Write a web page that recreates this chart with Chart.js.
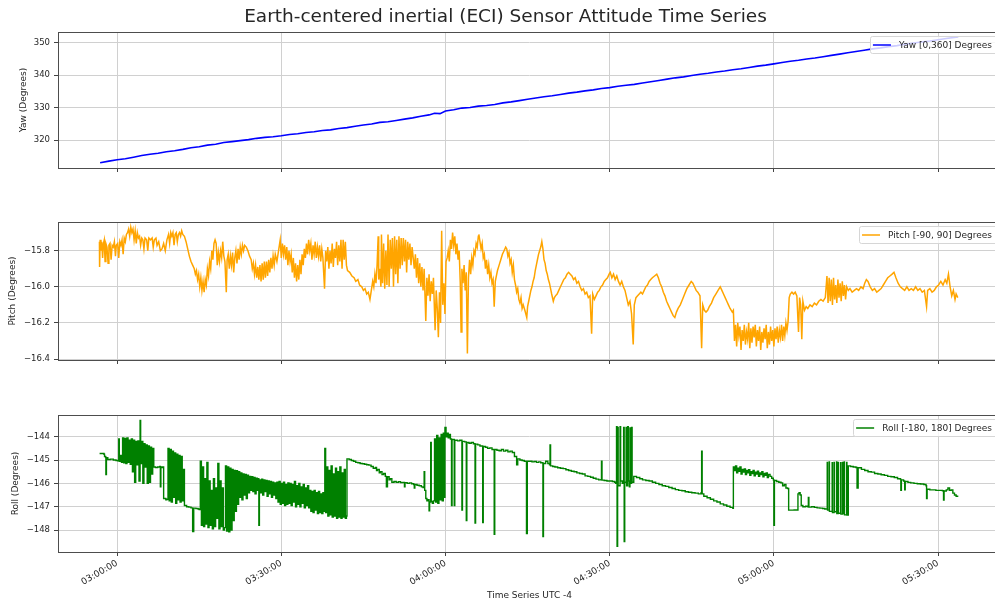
<!DOCTYPE html>
<html>
<head>
<meta charset="utf-8">
<title>ECI Sensor Attitude Time Series</title>
<script src="https://cdn.jsdelivr.net/npm/chart.js@4.4.1/dist/chart.umd.min.js"></script>
<style>
  html, body { margin: 0; padding: 0; background: #fff; overflow: hidden; width: 995px; height: 603px; }
  canvas { position: absolute; left: 0; }
  #yawCanvas { top: 0; }
  #pitchCanvas { top: 200px; }
  #rollCanvas { top: 380px; }
</style>
</head>
<body>
<canvas id="yawCanvas" width="1004" height="200"></canvas>
<canvas id="pitchCanvas" width="1004" height="180"></canvas>
<canvas id="rollCanvas" width="1004" height="223"></canvas>
<script>
// Time is in minutes after 03:00:00 (UTC -4); values are degrees.
const timeTickMinutes = [0, 30, 60, 90, 120, 150];
const timeTickLabels = ['03:00:00', '03:30:00', '04:00:00', '04:30:00', '05:00:00', '05:30:00'];

const yawTicks = [320, 330, 340, 350];
const pitchTicks = [-16.4, -16.2, -16.0, -15.8];
const rollTicks = [-148, -147, -146, -145, -144];

const seriesNames = ['Yaw [0,360] Degrees', 'Pitch [-90, 90] Degrees', 'Roll [-180, 180] Degrees'];

const yawPoints = [
  [-3.1,313.1],[-1.5,313.6],[0,314.0],[1.5,314.3],[3,314.8],[4.5,315.3],[6,315.7],[7.5,316.0],[9,316.5],[10.5,316.8],
  [12,317.2],[13.5,317.7],[15,318.0],[16.5,318.5],[18,318.8],[19.5,319.3],[21,319.6],[22.5,319.9],[24,320.2],[25.5,320.6],
  [27,320.9],[28.5,321.1],[30,321.4],[31.5,321.8],[33,322.0],[34.5,322.4],[36,322.6],[37.5,323.0],[39,323.2],[40.5,323.6],
  [42,323.9],[43.5,324.3],[45,324.7],[46.5,325.0],[48,325.5],[49.5,325.7],[51,326.1],[52.5,326.5],[54,326.9],[55.5,327.4],
  [57,327.8],[58,328.3],[59,328.2],[60,329.0],[61.5,329.4],[63,329.9],[64.5,330.1],[66,330.5],[67.5,330.7],[69,331.0],
  [70.5,331.5],[72,331.8],[73.5,332.2],[75,332.6],[76.5,333.0],[78,333.4],[79.5,333.7],[81,334.1],[82.5,334.5],[84,334.8],
  [85.5,335.2],[87,335.5],[88.5,335.9],[90,336.2],[91.5,336.6],[93,336.9],[94.5,337.2],[96,337.6],[97.5,338.0],[99,338.4],
  [100.5,338.8],[102,339.2],[103.5,339.5],[105,339.9],[106.5,340.3],[108,340.6],[109.5,341.0],[111,341.3],[112.5,341.7],[114,342.0],
  [115.5,342.4],[117,342.8],[118.5,343.1],[120,343.5],[121.5,343.9],[123,344.3],[124.5,344.6],[126,345.0],[127.5,345.3],[129,345.7],
  [130.5,346.1],[132,346.5],[133.5,346.9],[135,347.3],[136.5,347.7],[138,348.1],[139.5,348.4],[141,348.8],[142.5,349.1],[144,349.5],
  [145.5,349.9],[147,350.2],[148.5,350.5],[150,350.9],[151.5,351.3],[153.7,351.8]
];

const pitchPoints = [
  [-3.23,-15.75],[-3.2,-15.89],[-3.1,-15.74],[-2.95,-15.8],[-2.8,-15.75],[-2.65,-15.84],[-2.5,-15.76],[-2.35,-15.74],[-2.2,-15.86],[-2.05,-15.76],
  [-1.85,-15.78],[-1.65,-15.87],[-1.5,-15.77],[-1.3,-15.76],[-1.1,-15.85],[-0.9,-15.77],[-0.7,-15.78],[-0.5,-15.75],[-0.3,-15.83],[-0.15,-15.77],
  [0.1,-15.76],[0.3,-15.84],[0.5,-15.75],[0.7,-15.77],[0.9,-15.74],[1.1,-15.82],[1.3,-15.73],[1.5,-15.75],[1.7,-15.71],[1.9,-15.7],
  [2.1,-15.68],[2.3,-15.72],[2.5,-15.67],[2.7,-15.7],[2.9,-15.68],[3.1,-15.74],[3.3,-15.69],[3.5,-15.76],[3.7,-15.7],[3.9,-15.73],
  [4.1,-15.72],[4.3,-15.77],[4.5,-15.73],[4.7,-15.74],[4.9,-15.79],[5.1,-15.73],[5.4,-15.74],[5.6,-15.8],[5.8,-15.73],[6.1,-15.74],
  [6.4,-15.73],[6.6,-15.78],[6.8,-15.74],[7.1,-15.73],[7.3,-15.77],[7.6,-15.75],[7.9,-15.8],[8.2,-15.79],[8.5,-15.76],[8.8,-15.8],
  [9.1,-15.74],[9.4,-15.71],[9.6,-15.76],[9.8,-15.7],[10.0,-15.72],[10.2,-15.7],[10.4,-15.77],[10.6,-15.71],[10.8,-15.7],[11.0,-15.75],
  [11.2,-15.71],[11.4,-15.7],[11.6,-15.72],[11.8,-15.69],[12.0,-15.71],[12.3,-15.72],[12.6,-15.75],[12.9,-15.79],[13.2,-15.83],[13.5,-15.86],
  [13.8,-15.88],[14.1,-15.9],[14.3,-15.93],[14.5,-15.91],[14.7,-15.96],[14.9,-15.93],[15.1,-16.0],[15.3,-15.95],[15.5,-16.02],[15.7,-15.97],
  [15.9,-16.03],[16.1,-15.96],[16.3,-15.99],[16.5,-15.9],[16.7,-15.94],[16.9,-15.86],[17.1,-15.9],[17.3,-15.8],[17.5,-15.85],[17.7,-15.76],
  [17.9,-15.74],[18.1,-15.76],[18.3,-15.88],[18.5,-15.81],[18.7,-15.86],[18.9,-15.8],[19.1,-15.84],[19.3,-15.75],[19.5,-15.83],[19.7,-15.86],
  [19.95,-16.03],[20.1,-15.85],[20.3,-15.82],[20.5,-15.9],[20.7,-15.83],[20.9,-15.88],[21.1,-15.81],[21.3,-15.92],[21.5,-15.84],[21.7,-15.8],
  [21.9,-15.87],[22.1,-15.79],[22.3,-15.85],[22.5,-15.78],[22.7,-15.82],[22.9,-15.77],[23.1,-15.8],[23.3,-15.77],[23.6,-15.78],[23.9,-15.8],
  [24.2,-15.83],[24.5,-15.85],[24.7,-15.9],[24.9,-15.87],[25.1,-15.93],[25.3,-15.88],[25.5,-15.95],[25.7,-15.89],[25.9,-15.96],[26.1,-15.88],
  [26.3,-15.97],[26.5,-15.87],[26.7,-15.96],[26.9,-15.86],[27.1,-15.95],[27.3,-15.86],[27.5,-15.94],[27.7,-15.85],[27.9,-15.92],[28.1,-15.84],
  [28.3,-15.9],[28.5,-15.83],[28.7,-15.88],[28.9,-15.82],[29.2,-15.86],[29.5,-15.8],[29.8,-15.74],[30.0,-15.84],[30.2,-15.76],[30.4,-15.82],
  [30.6,-15.77],[30.8,-15.85],[31.0,-15.78],[31.2,-15.88],[31.4,-15.8],[31.6,-15.86],[31.8,-15.82],[32.0,-15.92],[32.2,-15.84],[32.4,-15.95],
  [32.6,-15.87],[32.8,-15.97],[33.0,-15.88],[33.2,-15.96],[33.4,-15.85],[33.6,-15.93],[33.8,-15.82],[34.0,-15.88],[34.2,-15.79],[34.4,-15.84],
  [34.6,-15.76],[34.8,-15.82],[35.0,-15.74],[35.2,-15.8],[35.4,-15.76],[35.6,-15.85],[35.8,-15.77],[36.0,-15.82],[36.2,-15.75],[36.4,-15.84],
  [36.6,-15.78],[36.8,-15.83],[37.0,-15.77],[37.2,-15.86],[37.4,-15.79],[37.6,-15.84],[37.9,-16.01],[38.1,-15.8],[38.3,-15.86],[38.5,-15.78],
  [38.7,-15.9],[38.9,-15.8],[39.1,-15.87],[39.3,-15.76],[39.5,-15.89],[39.7,-15.79],[39.9,-15.84],[40.1,-15.75],[40.3,-15.88],[40.5,-15.77],
  [40.7,-15.86],[40.9,-15.74],[41.1,-15.9],[41.3,-15.74],[41.5,-15.85],[41.7,-15.75],[41.9,-15.88],[42.1,-15.91],[42.5,-15.92],[42.9,-15.94],
  [43.3,-15.95],[43.6,-15.97],[44.0,-15.96],[44.3,-15.99],[44.7,-16.0],[45.0,-16.02],[45.3,-16.01],[45.6,-16.04],[45.9,-16.03],[46.2,-16.07],
  [46.4,-16.03],[46.7,-15.97],[46.9,-16.0],[47.1,-15.93],[47.3,-15.98],[47.5,-15.88],[47.7,-15.72],[47.8,-15.96],[48.0,-15.9],[48.2,-16.0],
  [48.3,-15.71],[48.5,-15.98],[48.7,-15.76],[48.9,-16.01],[49.1,-15.8],[49.3,-15.99],[49.5,-15.71],[49.7,-16.0],[49.9,-15.74],[50.1,-15.9],
  [50.3,-15.73],[50.5,-16.0],[50.7,-15.72],[50.9,-15.93],[51.1,-15.74],[51.3,-15.98],[51.5,-15.72],[51.7,-15.9],[51.9,-15.73],[52.1,-15.88],
  [52.3,-15.73],[52.5,-15.86],[52.7,-15.74],[52.9,-15.92],[53.1,-15.75],[53.3,-15.85],[53.5,-15.76],[53.7,-15.88],[53.9,-15.78],[54.1,-15.84],
  [54.3,-15.9],[54.5,-15.82],[54.7,-15.95],[54.9,-15.84],[55.1,-15.98],[55.3,-15.87],[55.5,-16.0],[55.7,-15.89],[55.9,-16.02],[56.1,-15.9],
  [56.4,-16.19],[56.6,-15.95],[56.8,-16.05],[57.0,-15.93],[57.2,-16.08],[57.4,-15.97],[57.6,-16.04],[57.8,-15.95],[58.1,-16.24],[58.3,-16.02],
  [58.5,-16.12],[58.7,-16.28],[58.9,-16.03],[59.1,-16.2],[59.3,-15.69],[59.5,-16.1],[59.7,-15.98],[59.9,-16.15],[60.1,-15.86],[60.3,-15.84],
  [60.5,-15.8],[60.7,-15.86],[60.9,-15.74],[61.1,-15.79],[61.3,-15.7],[61.5,-15.77],[61.7,-15.72],[61.9,-15.82],[62.1,-15.76],[62.3,-15.85],
  [62.5,-15.8],[62.7,-15.98],[62.85,-16.25],[63.0,-15.9],[63.2,-15.98],[63.4,-15.88],[63.6,-16.02],[63.8,-15.92],[64.0,-16.37],[64.2,-15.95],
  [64.4,-15.85],[64.6,-15.93],[64.8,-15.84],[65.0,-15.88],[65.2,-15.8],[65.4,-15.82],[65.6,-15.76],[65.8,-15.78],[66.0,-15.72],[66.1,-15.71],
  [66.3,-15.75],[66.5,-15.79],[66.7,-15.76],[66.9,-15.84],[67.1,-15.82],[67.3,-15.9],[67.5,-15.85],[67.7,-15.93],[67.9,-15.88],[68.1,-15.95],
  [68.3,-15.92],[68.5,-15.98],[68.7,-15.96],[68.9,-16.11],[69.1,-15.97],[69.3,-15.94],[69.5,-15.91],[69.8,-15.88],[70.1,-15.85],[70.4,-15.82],
  [70.7,-15.8],[71.0,-15.78],[71.2,-15.79],[71.4,-15.83],[71.6,-15.81],[71.8,-15.87],[72.0,-15.85],[72.2,-15.92],[72.4,-15.88],[72.6,-15.96],
  [72.8,-15.99],[73.0,-16.03],[73.2,-16.01],[73.4,-16.07],[73.6,-16.09],[73.8,-16.06],[74.0,-16.12],[74.2,-16.1],[74.5,-16.13],[74.85,-16.17],
  [75.0,-16.11],[75.2,-16.08],[75.4,-16.05],[75.6,-16.02],[75.8,-16.0],[76.0,-15.97],[76.2,-15.95],[76.4,-15.91],[76.6,-15.88],[76.8,-15.85],
  [77.0,-15.82],[77.2,-15.8],[77.4,-15.78],[77.6,-15.75],[77.8,-15.79],[78.0,-15.85],[78.2,-15.87],[78.4,-15.91],[78.6,-15.93],[78.8,-15.96],
  [79.0,-15.98],[79.2,-16.01],[79.4,-16.04],[79.7,-16.08],[79.9,-16.06],[80.1,-16.05],[80.4,-16.04],[80.7,-16.02],[81.0,-16.0],[81.3,-15.98],
  [81.6,-15.96],[81.9,-15.95],[82.2,-15.93],[82.5,-15.92],[82.8,-15.93],[83.1,-15.94],[83.4,-15.96],[83.7,-15.95],[84.0,-15.98],[84.3,-15.97],
  [84.6,-16.0],[84.9,-16.02],[85.2,-16.01],[85.5,-16.04],[85.8,-16.03],[86.1,-16.06],[86.4,-16.05],[86.7,-16.26],[86.9,-16.04],[87.2,-16.07],
  [87.5,-16.05],[87.8,-16.03],[88.1,-16.02],[88.4,-16.0],[88.7,-15.99],[89.0,-15.97],[89.3,-15.96],[89.6,-15.95],[89.9,-15.93],[90.1,-15.92],
  [90.4,-15.95],[90.7,-15.93],[91.0,-15.96],[91.3,-15.94],[91.6,-15.97],[91.9,-15.99],[92.2,-15.97],[92.5,-16.0],[92.8,-16.02],[93.1,-16.06],
  [93.4,-16.1],[93.7,-16.08],[94.0,-16.15],[94.3,-16.32],[94.5,-16.1],[94.8,-16.06],[95.1,-16.05],[95.4,-16.04],[95.7,-16.03],[96.0,-16.04],
  [96.3,-16.02],[96.6,-16.0],[96.9,-15.99],[97.2,-15.97],[97.5,-15.96],[97.8,-15.95],[98.2,-15.94],[98.6,-15.93],[98.9,-15.95],[99.2,-15.98],
  [99.5,-16.0],[99.8,-16.03],[100.1,-16.05],[100.4,-16.08],[100.7,-16.1],[101.0,-16.12],[101.3,-16.14],[101.6,-16.16],[101.9,-16.17],[102.2,-16.14],
  [102.5,-16.12],[102.9,-16.1],[103.3,-16.07],[103.7,-16.04],[104.1,-16.01],[104.5,-15.99],[104.9,-15.97],[105.2,-15.98],[105.5,-16.0],[105.8,-16.02],
  [106.1,-16.03],[106.5,-16.05],[106.8,-16.34],[107.0,-16.1],[107.3,-16.13],[107.6,-16.14],[107.9,-16.13],[108.2,-16.11],[108.6,-16.09],[109.0,-16.06],
  [109.4,-16.04],[109.8,-16.02],[110.2,-16.0],[110.5,-16.02],[110.8,-16.04],[111.1,-16.06],[111.4,-16.08],[111.7,-16.1],[112.0,-16.12],[112.4,-16.14],
  [112.6,-16.13],[112.8,-16.3],[113.0,-16.21],[113.2,-16.33],[113.4,-16.2],[113.6,-16.27],[113.8,-16.22],[114.0,-16.35],[114.2,-16.24],[114.4,-16.3],
  [114.6,-16.21],[114.8,-16.32],[115.0,-16.25],[115.2,-16.29],[115.4,-16.2],[115.6,-16.34],[115.8,-16.23],[116.0,-16.31],[116.2,-16.22],[116.4,-16.28],
  [116.6,-16.21],[116.8,-16.33],[117.0,-16.24],[117.2,-16.3],[117.4,-16.22],[117.6,-16.35],[117.8,-16.25],[118.0,-16.31],[118.2,-16.23],[118.4,-16.29],
  [118.6,-16.21],[118.8,-16.34],[119.0,-16.25],[119.2,-16.32],[119.4,-16.22],[119.6,-16.3],[119.8,-16.24],[120.0,-16.33],[120.2,-16.23],[120.4,-16.29],
  [120.6,-16.22],[120.8,-16.31],[121.0,-16.24],[121.2,-16.28],[121.4,-16.21],[121.6,-16.3],[121.8,-16.22],[122.0,-16.27],[122.2,-16.2],[122.4,-16.24],
  [122.6,-16.19],[122.8,-16.06],[123.0,-16.04],[123.3,-16.03],[123.6,-16.04],[123.9,-16.03],[124.2,-16.05],[124.5,-16.25],[124.7,-16.06],[124.9,-16.1],
  [125.1,-16.29],[125.3,-16.08],[125.6,-16.13],[125.9,-16.11],[126.2,-16.12],[126.6,-16.1],[127.0,-16.11],[127.4,-16.09],[127.8,-16.1],[128.2,-16.08],
  [128.6,-16.07],[129.0,-16.08],[129.4,-16.06],[129.7,-15.94],[129.9,-16.09],[130.1,-15.95],[130.3,-16.08],[130.5,-15.96],[130.7,-16.1],[130.9,-15.95],
  [131.1,-16.07],[131.3,-15.99],[131.5,-16.09],[131.7,-15.96],[131.9,-16.06],[132.1,-15.98],[132.3,-16.08],[132.5,-15.97],[132.7,-16.05],[132.9,-15.99],
  [133.1,-16.07],[133.3,-16.0],[133.6,-16.02],[133.9,-16.01],[134.3,-16.03],[134.7,-16.02],[135.1,-16.01],[135.5,-16.02],[135.9,-16.0],[136.3,-16.01],
  [136.6,-15.98],[136.9,-15.96],[137.2,-15.97],[137.6,-16.0],[138.0,-16.02],[138.4,-16.01],[138.8,-16.03],[139.2,-16.02],[139.6,-16.01],[140.0,-15.99],
  [140.4,-15.97],[140.8,-15.95],[141.2,-15.94],[141.6,-15.93],[141.95,-15.92],[142.3,-15.95],[142.7,-15.98],[143.1,-16.0],[143.5,-16.01],[143.9,-16.02],
  [144.3,-16.0],[144.7,-16.02],[145.1,-16.01],[145.5,-16.02],[145.9,-16.0],[146.3,-16.02],[146.7,-16.01],[147.1,-16.03],[147.5,-16.02],[147.9,-16.11],
  [148.1,-16.02],[148.5,-16.01],[148.9,-16.03],[149.3,-16.02],[149.7,-16.0],[150.1,-15.99],[150.5,-15.97],[150.9,-15.99],[151.3,-15.96],[151.6,-15.98],
  [151.9,-15.93],[152.2,-16.0],[152.5,-16.05],[152.8,-16.02],[153.1,-16.07],[153.3,-16.04],[153.6,-16.06]
];

const rollPoints = [
  [-3.2,-144.72],[-2.6,-144.72],[-2.4,-144.75],[-2.3,-144.85],[-2.1,-144.88],[-2.05,-145.62],[-1.95,-144.9],[-1.7,-144.98],[-1.2,-144.96],[-0.7,-145.0],
  [-0.2,-145.02],[0.1,-145.03],[0.3,-144.1],[0.4,-145.05],[0.6,-144.8],[0.8,-145.1],[1.0,-144.05],[1.2,-145.12],[1.4,-144.08],[1.6,-145.15],
  [1.8,-144.05],[2.0,-145.1],[2.2,-144.15],[2.4,-145.18],[2.6,-144.1],[2.8,-145.5],[3.0,-144.15],[3.2,-145.95],[3.4,-144.2],[3.6,-145.2],
  [3.8,-144.18],[4.0,-145.9],[4.2,-143.3],[4.3,-145.15],[4.5,-144.2],[4.7,-146.0],[4.9,-144.3],[5.1,-145.3],[5.3,-144.35],[5.5,-146.0],
  [5.7,-144.4],[5.9,-145.95],[6.1,-144.45],[6.3,-145.6],[6.5,-144.5],[6.7,-145.3],[7.0,-145.32],[7.4,-145.3],[7.8,-145.28],[7.9,-146.15],
  [8.0,-145.3],[8.2,-145.32],[8.4,-145.3],[8.5,-146.65],[8.9,-146.7],[9.1,-146.68],[9.3,-144.5],[9.5,-146.75],[9.7,-144.55],[9.9,-146.8],
  [10.1,-144.62],[10.3,-146.6],[10.5,-144.7],[10.7,-146.85],[10.9,-144.75],[11.1,-146.7],[11.3,-144.8],[11.5,-146.8],[11.7,-144.85],[11.9,-146.75],
  [12.1,-145.4],[12.3,-146.95],[12.7,-147.0],[13.1,-147.02],[13.5,-147.05],[13.8,-148.07],[14.0,-147.06],[14.4,-147.08],[14.8,-147.1],[15.0,-147.12],
  [15.2,-145.05],[15.4,-147.8],[15.6,-145.3],[15.8,-147.85],[16.0,-145.8],[16.2,-147.75],[16.4,-145.1],[16.6,-147.9],[16.8,-145.9],[17.0,-147.8],
  [17.2,-146.3],[17.4,-147.95],[17.6,-145.8],[17.8,-147.85],[18.0,-146.2],[18.2,-147.5],[18.4,-145.15],[18.6,-147.95],[18.8,-145.9],[19.0,-147.85],
  [19.2,-146.2],[19.4,-148.0],[19.6,-147.9],[19.8,-145.25],[20.0,-148.05],[20.2,-145.3],[20.4,-148.08],[20.6,-145.35],[20.8,-148.0],[21.0,-145.4],
  [21.2,-147.6],[21.4,-145.45],[21.6,-147.2],[21.8,-145.46],[22.0,-146.9],[22.2,-145.5],[22.4,-146.6],[22.6,-145.55],[22.8,-146.7],[23.0,-145.6],
  [23.2,-146.5],[23.4,-145.62],[23.6,-146.65],[23.8,-145.65],[24.0,-146.4],[24.2,-145.7],[24.4,-146.3],[24.6,-145.72],[24.8,-146.35],[25.0,-145.75],
  [25.2,-146.45],[25.4,-145.78],[25.6,-146.3],[25.8,-145.8],[25.9,-147.8],[26.0,-145.85],[26.2,-146.4],[26.4,-145.82],[26.6,-146.5],[26.8,-145.85],
  [27.0,-146.35],[27.2,-145.88],[27.4,-146.55],[27.6,-145.9],[27.8,-146.45],[28.0,-145.92],[28.2,-146.6],[28.4,-145.95],[28.6,-146.5],[28.8,-145.98],
  [29.0,-146.65],[29.2,-145.95],[29.4,-146.8],[29.6,-145.92],[29.8,-146.9],[30.0,-146.0],[30.2,-146.85],[30.4,-145.95],[30.6,-146.95],[30.8,-146.05],
  [31.0,-146.9],[31.2,-145.98],[31.4,-146.85],[31.6,-146.0],[31.8,-146.95],[32.0,-146.05],[32.2,-146.8],[32.4,-145.92],[32.6,-147.0],[32.8,-146.1],
  [33.0,-146.9],[33.2,-146.0],[33.4,-147.0],[33.6,-146.15],[33.8,-146.85],[34.0,-146.05],[34.2,-147.05],[34.4,-146.2],[34.6,-146.95],[34.8,-146.1],
  [35.0,-147.05],[35.2,-146.3],[35.4,-147.2],[35.6,-146.35],[35.8,-147.25],[36.0,-146.3],[36.2,-147.15],[36.4,-146.4],[36.6,-147.3],[36.8,-146.35],
  [37.0,-147.25],[37.2,-146.45],[37.4,-147.3],[37.6,-146.4],[37.8,-147.2],[37.95,-144.5],[38.1,-147.25],[38.3,-145.3],[38.5,-147.4],[38.7,-145.45],
  [38.9,-147.35],[39.1,-145.25],[39.3,-147.45],[39.5,-145.6],[39.7,-147.4],[39.9,-145.35],[40.1,-147.5],[40.3,-145.5],[40.5,-147.45],[40.7,-145.3],
  [40.9,-147.5],[41.1,-145.55],[41.3,-147.45],[41.5,-145.4],[41.7,-147.5],[41.9,-147.4],[42.0,-144.95],[42.4,-144.98],[42.8,-145.02],[43.2,-145.05],
  [43.6,-145.1],[44.0,-145.12],[44.4,-145.15],[44.8,-145.16],[45.2,-145.18],[45.6,-145.2],[46.0,-145.22],[46.4,-145.28],[46.8,-145.35],[47.2,-145.32],
  [47.4,-145.45],[47.6,-145.4],[47.9,-145.55],[48.1,-145.5],[48.4,-145.62],[48.7,-145.58],[49.0,-145.7],[49.2,-146.15],[49.4,-145.72],[49.7,-145.85],
  [49.9,-145.8],[50.2,-145.95],[50.6,-145.92],[51.0,-145.96],[51.4,-145.93],[51.8,-145.97],[52.2,-145.96],[52.5,-146.15],[52.6,-145.97],[53.0,-146.0],
  [53.4,-145.98],[53.8,-146.02],[54.2,-146.05],[54.3,-146.2],[54.4,-146.05],[54.8,-146.08],[55.2,-146.1],[55.6,-146.15],[55.9,-146.18],[56.1,-145.5],
  [56.2,-146.3],[56.4,-146.65],[56.6,-146.75],[56.8,-146.7],[57.0,-147.18],[57.1,-146.8],[57.3,-144.25],[57.4,-146.78],[57.6,-146.85],[57.8,-146.75],
  [58.0,-144.1],[58.2,-146.8],[58.4,-143.95],[58.6,-146.85],[58.8,-144.05],[59.0,-146.7],[59.2,-143.9],[59.4,-146.75],[59.6,-143.85],[59.8,-146.6],
  [59.9,-143.6],[60.1,-144.0],[60.3,-143.85],[60.5,-144.05],[60.7,-143.9],[60.9,-144.1],[61.1,-146.95],[61.2,-144.12],[61.6,-146.95],[61.7,-144.15],
  [62.2,-144.18],[62.6,-144.15],[63.0,-147.15],[63.1,-144.2],[63.5,-144.22],[63.8,-147.6],[63.9,-144.25],[64.3,-144.28],[64.7,-144.25],[65.1,-144.3],
  [65.4,-147.7],[65.5,-144.32],[65.9,-144.35],[66.3,-144.4],[66.8,-147.68],[66.9,-144.42],[67.3,-144.45],[67.7,-144.5],[68.1,-144.48],[68.5,-144.55],
  [68.9,-148.18],[69.0,-144.55],[69.4,-144.58],[69.8,-144.6],[70.2,-144.55],[70.6,-144.62],[71.0,-144.58],[71.4,-144.65],[71.8,-144.62],[72.2,-144.68],
  [72.6,-144.85],[73.0,-145.2],[73.2,-144.95],[73.6,-145.0],[74.0,-145.02],[74.4,-145.05],[74.8,-148.15],[74.95,-145.05],[75.4,-145.05],[75.8,-145.08],
  [76.2,-145.06],[76.6,-145.1],[77.0,-145.08],[77.4,-145.12],[77.8,-148.28],[77.9,-145.15],[78.3,-145.05],[78.7,-145.15],[79.0,-145.2],[79.1,-144.35],
  [79.2,-145.25],[79.6,-145.28],[80.0,-145.3],[80.5,-145.33],[81.0,-145.35],[81.5,-145.37],[82.0,-145.42],[82.5,-145.45],[83.0,-145.48],[83.5,-145.5],
  [84.0,-145.55],[84.5,-145.58],[85.0,-145.6],[85.5,-145.68],[86.0,-145.7],[86.5,-145.74],[87.0,-145.78],[87.5,-145.82],[88.0,-145.85],[88.4,-145.84],
  [88.5,-145.05],[88.6,-145.86],[89.0,-145.88],[89.5,-145.9],[90.0,-145.9],[90.5,-145.92],[90.9,-145.95],[91.1,-146.0],[91.25,-143.57],[91.35,-148.7],
  [91.45,-143.6],[91.55,-146.1],[91.9,-143.57],[92.0,-145.9],[92.3,-146.0],[92.55,-143.6],[92.65,-148.5],[92.75,-145.95],[93.0,-143.6],[93.1,-146.1],
  [93.3,-143.57],[93.4,-145.9],[93.6,-146.15],[93.7,-143.62],[93.8,-146.0],[94.0,-143.6],[94.1,-145.95],[94.4,-145.7],[94.9,-145.75],[95.5,-145.8],
  [96.0,-145.85],[96.6,-145.88],[97.2,-145.9],[97.8,-145.95],[98.4,-146.0],[99.0,-146.05],[99.6,-146.1],[100.2,-146.13],[100.8,-146.18],[101.4,-146.22],
  [102.0,-146.27],[102.6,-146.3],[103.2,-146.32],[103.8,-146.36],[104.4,-146.38],[105.0,-146.4],[105.6,-146.42],[106.2,-146.45],[106.7,-146.4],[106.8,-144.62],
  [106.9,-146.45],[107.2,-146.55],[107.8,-146.62],[108.4,-146.68],[109.0,-146.75],[109.6,-146.8],[110.2,-146.88],[110.8,-146.93],[111.4,-146.98],[112.0,-147.03],
  [112.5,-147.07],[112.6,-145.3],[112.8,-145.45],[113.0,-145.25],[113.2,-145.55],[113.4,-145.35],[113.6,-145.48],[113.8,-145.3],[114.0,-145.6],[114.2,-145.4],
  [114.4,-145.52],[114.6,-145.38],[114.8,-145.62],[115.0,-145.45],[115.2,-145.55],[115.4,-145.42],[115.6,-145.65],[115.8,-145.5],[116.0,-145.58],[116.2,-145.45],
  [116.4,-145.68],[116.6,-145.52],[116.8,-145.6],[117.0,-145.48],[117.2,-145.7],[117.4,-145.55],[117.6,-145.62],[117.8,-145.5],[118.0,-145.72],[118.2,-145.58],
  [118.4,-145.65],[118.6,-145.55],[118.8,-145.75],[119.0,-145.62],[119.3,-145.7],[119.6,-145.78],[119.9,-145.85],[120.0,-147.8],[120.1,-145.88],[120.5,-145.92],
  [120.9,-145.95],[121.3,-145.98],[121.6,-146.1],[121.9,-146.05],[122.2,-146.2],[122.5,-146.22],[122.7,-147.15],[123.2,-147.15],[123.7,-147.14],[124.2,-147.15],
  [124.4,-146.45],[124.6,-146.4],[124.8,-146.5],[125.0,-146.95],[125.3,-147.0],[125.8,-146.98],[126.2,-147.0],[126.3,-146.6],[126.4,-147.02],[126.9,-147.0],
  [127.4,-147.03],[127.9,-147.05],[128.4,-147.06],[128.9,-147.08],[129.3,-147.1],[129.75,-145.1],[129.8,-147.15],[130.1,-145.08],[130.15,-147.2],[130.65,-145.12],
  [130.7,-147.25],[131.0,-145.1],[131.05,-147.22],[131.45,-145.08],[131.5,-147.3],[131.75,-145.1],[131.8,-147.28],[132.2,-145.12],[132.25,-147.32],[132.55,-145.1],
  [132.6,-147.3],[132.85,-145.08],[132.9,-147.35],[133.3,-145.1],[133.35,-147.36],[133.6,-145.25],[134.0,-145.28],[134.5,-145.3],
  [135.0,-145.32],[135.2,-146.2],[135.4,-145.33],[136.0,-145.4],[136.6,-145.45],[137.2,-145.5],[137.8,-145.52],[138.4,-145.58],[139.0,-145.6],[139.6,-145.63],
  [140.2,-145.66],[140.8,-145.7],[141.4,-145.72],[142.0,-145.75],[142.6,-145.8],[143.1,-145.82],[143.2,-146.3],[143.3,-145.85],[143.7,-145.9],[143.9,-146.28],
  [144.0,-145.92],[144.5,-145.96],[145.0,-145.98],[145.6,-146.0],[146.2,-146.02],[146.8,-146.03],[147.4,-146.05],[147.8,-146.1],[147.9,-146.65],[148.0,-146.25],
  [148.5,-146.28],[149.0,-146.28],[149.6,-146.3],[150.2,-146.3],[150.8,-146.32],[151.0,-146.72],[151.1,-146.33],[151.5,-146.28],[151.8,-146.2],[152.1,-146.3],
  [152.4,-146.28],[152.7,-146.42],[153.0,-146.5],[153.3,-146.55],[153.7,-146.55]
];

Chart.defaults.font.family = '"DejaVu Sans", "Liberation Sans", sans-serif';
Chart.defaults.color = '#262626';

const textColor = '#262626';
const gridColor = '#d0d0d0';
const spineColor = '#4d4d4d';

// Axes frame on all four sides plus an in-plot legend in the upper right corner.
const framePlugin = {
  id: 'axesFrame',
  afterDatasetsDraw(chart) {
    const { ctx, chartArea: a } = chart;
    ctx.save();
    ctx.strokeStyle = spineColor;
    ctx.lineWidth = 1;
    const l = Math.round(a.left) + 0.5, t = Math.round(a.top) + 0.5;
    const r = Math.round(a.right) + 0.5, b = Math.round(a.bottom) + 0.5;
    ctx.strokeRect(l, t, r - l, b - t);

    const ds = chart.data.datasets[0];
    ctx.font = '9px "DejaVu Sans", sans-serif';
    const w = ctx.measureText(ds.label).width;
    const boxRight = a.right - 4;
    const boxTop = Math.round(a.top) + 4;
    const boxH = 17;
    const textX = boxRight - 5 - w;
    const lineEnd = textX - 8;
    const lineStart = lineEnd - 18;
    const boxLeft = lineStart - 3;
    ctx.beginPath();
    ctx.roundRect(Math.round(boxLeft) + 0.5, boxTop + 0.5, Math.round(boxRight - boxLeft), boxH, 2);
    ctx.fillStyle = 'rgba(255,255,255,0.8)';
    ctx.fill();
    ctx.strokeStyle = '#d6d6d6';
    ctx.lineWidth = 1;
    ctx.stroke();
    const midY = boxTop + boxH / 2 + 0.5;
    ctx.strokeStyle = ds.borderColor;
    ctx.lineWidth = 1.5;
    ctx.beginPath();
    ctx.moveTo(lineStart, midY);
    ctx.lineTo(lineEnd, midY);
    ctx.stroke();
    ctx.fillStyle = textColor;
    ctx.textBaseline = 'middle';
    ctx.textAlign = 'left';
    ctx.fillText(ds.label, textX, midY + 0.5);
    ctx.restore();
  }
};

function minusSign(s) { return s.replace('-', '\u2212'); }

function makePanel(cfg) {
  const yTickValues = cfg.yTicks;
  return new Chart(document.getElementById(cfg.canvas), {
    type: 'line',
    data: {
      datasets: [{
        label: cfg.label,
        data: cfg.points.map(p => ({ x: p[0], y: p[1] })),
        borderColor: cfg.color,
        borderWidth: cfg.lineWidth,
        stepped: cfg.stepped,
        pointRadius: 0,
        tension: 0,
        fill: false
      }]
    },
    options: {
      responsive: false,
      animation: false,
      devicePixelRatio: 1,
      parsing: false,
      normalized: true,
      events: [],
      layout: { padding: { left: cfg.padLeft, right: 3, top: cfg.padTop, bottom: 0 } },
      plugins: {
        legend: { display: false },
        tooltip: { enabled: false },
        title: cfg.title ? {
          display: true,
          text: cfg.title,
          color: textColor,
          font: { size: 18.5, weight: 'normal' },
          padding: { top: 6, bottom: 3.8 }
        } : { display: false }
      },
      scales: {
        x: {
          type: 'linear',
          min: -10.8,
          max: 161.5,
          afterBuildTicks: s => { s.ticks = timeTickMinutes.map(v => ({ value: v })); },
          afterFit: s => { s.height = cfg.xHeight; },
          grid: { color: gridColor, lineWidth: 1, drawTicks: true, tickLength: 4, tickColor: '#444', tickWidth: 1 },
          border: { display: false },
          ticks: {
            display: cfg.showX,
            autoSkip: false,
            minRotation: 30,
            maxRotation: 30,
            padding: 2,
            color: textColor,
            font: { size: 9 },
            callback: v => timeTickLabels[timeTickMinutes.indexOf(v)]
          },
          title: cfg.showX ? {
            display: true,
            text: 'Time Series UTC -4',
            color: textColor,
            font: { size: 9 },
            padding: { top: 0, bottom: 1.5 }
          } : { display: false }
        },
        y: {
          type: 'linear',
          min: cfg.yMin,
          max: cfg.yMax,
          afterBuildTicks: s => { s.ticks = yTickValues.map(v => ({ value: v })); },
          afterFit: s => { s.width = 58 - cfg.padLeft; },
          grid: { color: gridColor, lineWidth: 1, drawTicks: true, tickLength: 4, tickColor: '#444', tickWidth: 1 },
          border: { display: false },
          ticks: {
            color: textColor,
            padding: 4,
            font: { size: 8.5 },
            callback: cfg.tickFormat
          },
          title: {
            display: true,
            text: cfg.yTitle,
            color: textColor,
            font: { size: 9 },
            padding: { top: cfg.yTitleGap, bottom: 0 }
          }
        }
      }
    },
    plugins: [framePlugin]
  });
}

makePanel({
  canvas: 'yawCanvas', label: seriesNames[0], points: yawPoints, color: '#0000ff', lineWidth: 1.6, stepped: false,
  yMin: 311.48, yMax: 353.29, yTicks: yawTicks, yTitle: 'Yaw (Degrees)',
  tickFormat: v => String(v),
  padLeft: 10, yTitleGap: 8.6, padTop: 0, xHeight: 32, showX: false,
  title: 'Earth-centered inertial (ECI) Sensor Attitude Time Series'
});

makePanel({
  canvas: 'pitchCanvas', label: seriesNames[1], points: pitchPoints, color: '#ffa500', lineWidth: 1.5, stepped: false,
  yMin: -16.4055, yMax: -15.641, yTicks: pitchTicks, yTitle: 'Pitch (Degrees)',
  tickFormat: v => minusSign(v.toFixed(1)),
  padLeft: 7, yTitleGap: 0, padTop: 22, xHeight: 20, showX: false
});

makePanel({
  canvas: 'rollCanvas', label: seriesNames[2], points: rollPoints, color: '#008000', lineWidth: 1.4, stepped: true,
  yMin: -148.943, yMax: -143.07, yTicks: rollTicks, yTitle: 'Roll (Degrees)',
  tickFormat: v => minusSign(String(v)),
  padLeft: 10, yTitleGap: 0, padTop: 35, xHeight: 51, showX: true
});
</script>
</body>
</html>
